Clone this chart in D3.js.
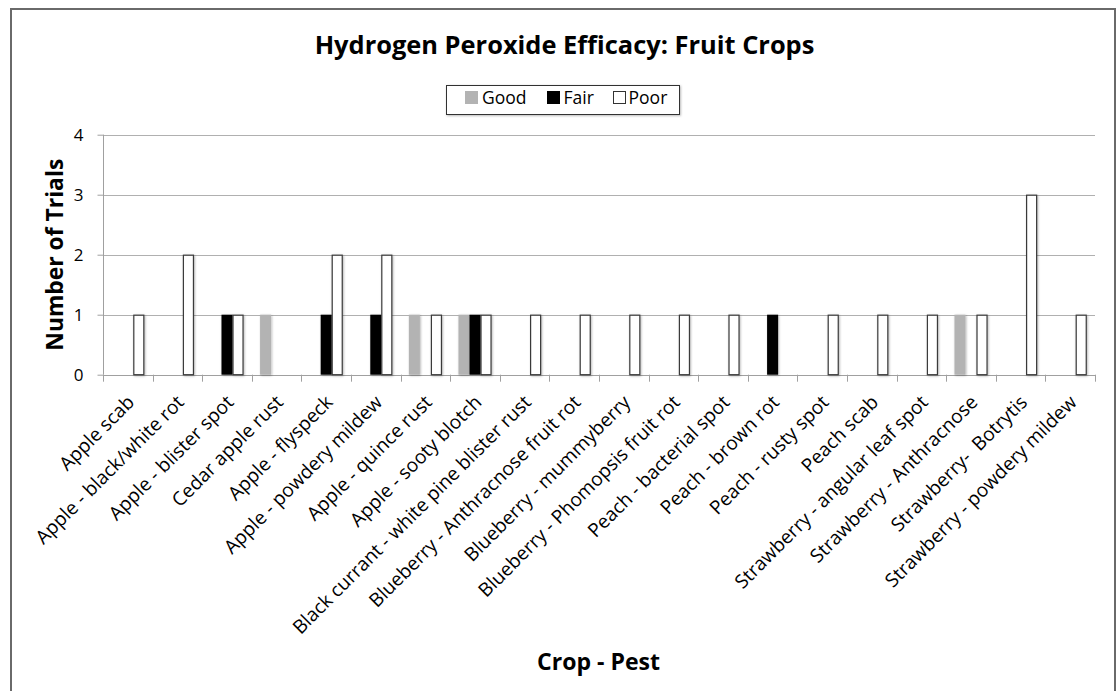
<!DOCTYPE html>
<html><head><meta charset="utf-8">
<script src="https://cdn.jsdelivr.net/npm/d3@7"></script>
<style>
body{margin:0;background:#fff}
text{font-family:'Open Sans',sans-serif;fill:#000}
</style>
</head><body>
<svg id="c" width="1118" height="691"></svg>
<script>
const categories = [
  "Apple scab","Apple - black/white rot","Apple - blister spot","Cedar apple rust",
  "Apple - flyspeck","Apple - powdery mildew","Apple - quince rust","Apple - sooty blotch",
  "Black currant - white pine blister rust","Blueberry - Anthracnose fruit rot",
  "Blueberry - mummyberry","Blueberry - Phomopsis fruit rot","Peach - bacterial spot",
  "Peach - brown rot","Peach - rusty spot","Peach scab","Strawberry - angular leaf spot",
  "Strawberry - Anthracnose","Strawberry-  Botrytis","Strawberry - powdery mildew"
];
const seriesNames = ["Good","Fair","Poor"];
const good = [0,0,0,1,0,0,1,1,0,0,0,0,0,0,0,0,0,1,0,0];
const fair = [0,0,1,0,1,1,0,1,0,0,0,0,0,1,0,0,0,0,0,0];
const poor = [1,2,1,0,2,2,1,1,1,1,1,1,1,0,1,1,1,1,3,1];
const yTicks = [0,1,2,3,4];
const titleText = "Hydrogen Peroxide Efficacy: Fruit Crops";
const xTitle = "Crop - Pest";
const yTitle = "Number of Trials";

const seriesData = [good, fair, poor];
const fills = ["#b3b3b3","#000000","#ffffff"];
const strokes = ["none","none","#3a3a3a"];

function fit(sel, target){
  const w = sel.node().getComputedTextLength();
  const fs = +sel.attr("font-size");
  const nf = fs*target/w;
  sel.attr("font-size", nf);
  return nf;
}

const svg = d3.select("#c");
const defs = svg.append("defs");
const f = defs.append("filter").attr("id","sh").attr("x","-50%").attr("y","-50%").attr("width","200%").attr("height","200%");
f.append("feDropShadow").attr("dx",0.8).attr("dy",0.8).attr("stdDeviation",0.9).attr("flood-color","#000").attr("flood-opacity",0.3);

// outer border
svg.append("rect").attr("x",11).attr("y",9).attr("width",1104).attr("height",700)
  .attr("fill","#fff").attr("stroke","#6a6a6a").attr("stroke-width",2);

const L = 103, R = 1095, T = 134.7, B = 374.7;
const y = d3.scaleLinear().domain([0,4]).range([B,T]);
const x = d3.scaleBand().domain(categories).range([L,R]).padding(0);
const x1 = d3.scaleBand().domain(seriesNames).range([0,x.bandwidth()]).paddingInner(0).paddingOuter(0.75);

// gridlines
svg.append("g").selectAll("line").data(yTicks).join("line")
  .attr("x1",L).attr("x2",R).attr("y1",d=>Math.round(y(d))+0.5).attr("y2",d=>Math.round(y(d))+0.5)
  .attr("stroke","#b0b0b0").attr("stroke-width",1);

// y axis
const ya = svg.append("g").attr("transform",`translate(${L+0.5},0)`)
  .call(d3.axisLeft(y).tickValues(yTicks).tickFormat(d3.format("d")).tickSize(6).tickPadding(14));
ya.select(".domain").attr("stroke","#a0a0a0").attr("d",`M0,${T}V${B}`);
ya.selectAll(".tick line").attr("stroke","#a0a0a0");
ya.selectAll(".tick text").attr("font-size",17).attr("font-family","'Open Sans'").attr("fill","#000");

// x axis line and ticks at category boundaries
svg.append("line").attr("x1",L).attr("x2",R).attr("y1",Math.round(B)+0.5).attr("y2",Math.round(B)+0.5).attr("stroke","#a0a0a0");
svg.append("g").selectAll("line").data(d3.range(categories.length+1)).join("line")
  .attr("x1",i=>Math.round(L + i*x.step())+0.5).attr("x2",i=>Math.round(L + i*x.step())+0.5)
  .attr("y1",B).attr("y2",B+7).attr("stroke","#a0a0a0");

// bars
seriesNames.forEach((s,si)=>{
  svg.append("g").attr("filter","url(#sh)").selectAll("rect").data(seriesData[si].map((v,i)=>({v,c:categories[i]})).filter(d=>d.v>0))
    .join("rect")
    .attr("x",d=>x(d.c)+x1(s)+(si===2?0.5:0))
    .attr("width",x1.bandwidth()-(si===2?1:0))
    .attr("y",d=>y(d.v)+(si===2?0.5:0))
    .attr("height",d=>B-y(d.v)-(si===2?0.5:0))
    .attr("fill",fills[si]).attr("stroke",strokes[si]).attr("stroke-width",1.2);
});

// x tick labels (font sized so the longest label matches the reference length)
const xl = svg.append("g").selectAll("text").data(categories).join("text")
  .attr("transform",d=>`translate(${x(d)+x.bandwidth()/2+3},${B+24}) rotate(-45)`)
  .attr("text-anchor","end").attr("dy","0.35em")
  .attr("font-size",18).text(d=>d).style("white-space","pre");
const probe = xl.filter((d,i)=>i===8);
const lfs = fit(probe, 328);
xl.attr("font-size", lfs);

// title
const tt = svg.append("text").attr("x",564.5).attr("y",53.5).attr("text-anchor","middle")
  .attr("font-weight",700).attr("font-size",26).text(titleText);
fit(tt, 500);

// legend
const lg = svg.append("g");
lg.append("rect").attr("x",446.5).attr("y",85.5).attr("width",233).attr("height",29)
  .attr("fill","#fff").attr("stroke","#333").attr("stroke-width",1).attr("filter","url(#sh)");
const legSq = [465, 547, 613];
const legTx = [482, 563.5, 628.5];
let legFs = null;
seriesNames.forEach((s,i)=>{
  if(i===2){
    lg.append("rect").attr("x",legSq[i]+0.5).attr("y",91.5).attr("width",12).attr("height",12)
      .attr("fill","#fff").attr("stroke","#333").attr("stroke-width",1);
  } else {
    lg.append("rect").attr("x",legSq[i]).attr("y",91).attr("width",13).attr("height",13).attr("fill",fills[i]);
  }
  const t = lg.append("text").attr("x",legTx[i]).attr("y",103.5).attr("font-size",18.5).text(s);
  if(i===0) legFs = fit(t, 44.6); else t.attr("font-size", legFs);
});

// axis titles
const xt = svg.append("text").attr("x",598.5).attr("y",670).attr("text-anchor","middle")
  .attr("font-weight",700).attr("font-size",23).text(xTitle);
fit(xt, 123);
const yt = svg.append("text").attr("transform",`translate(62.5,${(T+B)/2}) rotate(-90)`).attr("text-anchor","middle")
  .attr("font-weight",700).attr("font-size",23).text(yTitle);
fit(yt, 192);
</script>
</body></html>
